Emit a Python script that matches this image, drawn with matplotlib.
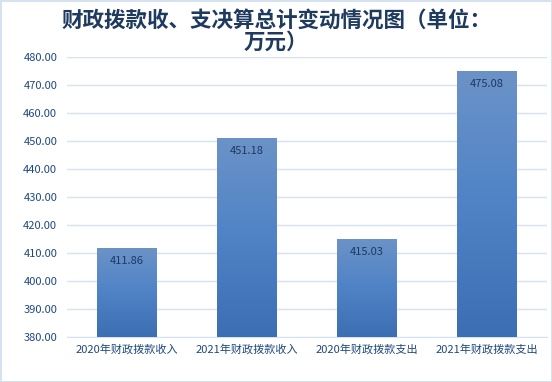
import numpy as np
import matplotlib.pyplot as plt
from matplotlib.colors import LinearSegmentedColormap

plt.rcParams['font.family'] = ['Noto Sans CJK SC', 'DejaVu Sans']

categories = ['2020年财政拨款收入', '2021年财政拨款收入', '2020年财政拨款支出', '2021年财政拨款支出']
values = [411.86, 451.18, 415.03, 475.08]
y_ticks = [380, 390, 400, 410, 420, 430, 440, 450, 460, 470, 480]

fig = plt.figure(figsize=(5.52, 3.82), dpi=100)
fig.patch.set_edgecolor('#D6E2F0')
fig.patch.set_linewidth(2)
ax = fig.add_axes([67 / 552, 45 / 382, 480 / 552, 280 / 382])

x = np.arange(len(categories))
bars = ax.bar(x, values, width=0.5, bottom=0, color='none', zorder=3)

# 渐变填充
cmap = LinearSegmentedColormap.from_list('bar', ['#3B6EB2', '#4F83C6', '#6C93C8'])
grad = np.linspace(0, 1, 256).reshape(-1, 1)
for b in bars:
    x0 = b.get_x()
    w = b.get_width()
    top = b.get_height()
    im = ax.imshow(grad, cmap=cmap, aspect='auto', origin='lower',
                   extent=[x0, x0 + w, 380, top], zorder=3)
    im.set_clip_path(b)

for i, v in enumerate(values):
    ax.text(x[i], v - 2.8, f'{v:.2f}', ha='center', va='top', fontsize=8,
            color='#1F3864', zorder=4)

ax.set_xlim(-0.5, len(categories) - 0.5)
ax.set_ylim(380, 480)
ax.set_yticks(y_ticks)
ax.set_yticklabels([f'{t:.2f}' for t in y_ticks], fontsize=8, color='#1F497D')
ax.set_xticks(x)
ax.set_xticklabels(categories, fontsize=8, color='#1F497D')
ax.tick_params(length=0)
ax.tick_params(axis='y', pad=7)
ax.tick_params(axis='x', pad=5)
ax.grid(axis='y', color='#D6E2F0', linewidth=1, zorder=0)
for s in ['top', 'right', 'left']:
    ax.spines[s].set_visible(False)
ax.spines['bottom'].set_color('#D6E2F0')
ax.set_axisbelow(True)

fig.text(0.5, 0.975, '财政拨款收、支决算总计变动情况图（单位：\n万元）', ha='center', va='top',
         fontsize=15.5, fontweight='bold', color='#1F3A5F', linespacing=1.05)

fig.savefig('out.png', dpi=100)
